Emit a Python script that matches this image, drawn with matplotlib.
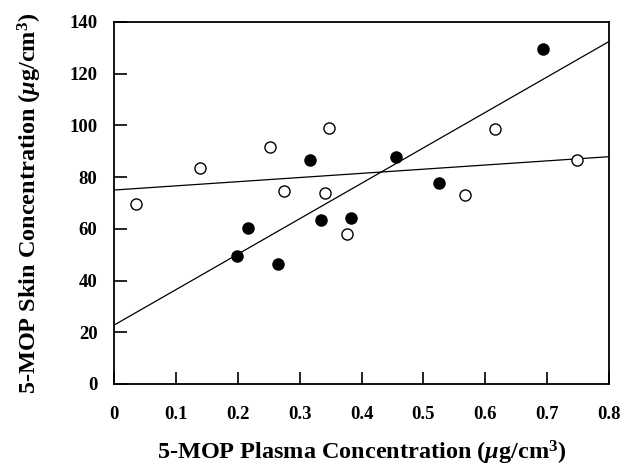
import matplotlib
matplotlib.use("Agg")
import matplotlib.pyplot as plt
import numpy as np

plt.rcParams['font.family'] = ['Liberation Serif', 'DejaVu Serif']
plt.rcParams['mathtext.fontset'] = 'custom'
plt.rcParams['mathtext.it'] = 'Liberation Serif:italic:bold'
plt.rcParams['mathtext.rm'] = 'Liberation Serif:bold'

# open circles
open_x = [0.035, 0.138, 0.252, 0.347, 0.275, 0.341, 0.377, 0.568, 0.616, 0.749]
open_y = [69.5, 83.6, 91.6, 98.9, 74.8, 74.0, 57.9, 73.0, 98.7, 86.5]
# filled circles
filled_x = [0.198, 0.217, 0.265, 0.317, 0.335, 0.383, 0.455, 0.526, 0.694]
filled_y = [49.6, 60.3, 46.3, 86.5, 63.5, 64.3, 87.6, 77.7, 129.4]

# regression lines (intercept, slope)
steep_line = (22.8, 137.0)
flat_line = (75.0, 16.1)

x_ticks = [0, 0.1, 0.2, 0.3, 0.4, 0.5, 0.6, 0.7, 0.8]
x_ticklabels = ['0', '0.1', '0.2', '0.3', '0.4', '0.5', '0.6', '0.7', '0.8']
y_ticks = [0, 20, 40, 60, 80, 100, 120, 140]

fig = plt.figure(figsize=(6.31, 4.66), dpi=100)
ax = fig.add_axes([0.181, 0.176, 0.784, 0.777])

xl = np.array([0.0, 0.8])
for b0, b1 in (steep_line, flat_line):
    ax.plot(xl, b0 + b1 * xl, color='black', lw=0.9, zorder=2)

ax.plot(open_x, open_y, 'o', mfc='white', mec='black', mew=1.0, ms=8, ls='none', zorder=3)
ax.plot(filled_x, filled_y, 'o', mfc='black', mec='black', ms=8, ls='none', zorder=3)

ax.set_xlim(0, 0.8)
ax.set_ylim(0, 140)
ax.set_xticks(x_ticks)
ax.set_xticklabels(x_ticklabels)
ax.set_yticks(y_ticks)
ax.tick_params(direction='in', length=9, width=1.2, labelsize=13.5,
               top=False, right=False)
ax.tick_params(axis='x', pad=16)
ax.tick_params(axis='y', pad=12)
for lab in ax.get_xticklabels() + ax.get_yticklabels():
    lab.set_fontweight('bold')
for s in ax.spines.values():
    s.set_linewidth(1.3)

ax.set_xlabel(r'5-MOP Plasma Concentration ($\mu$g/cm$^3$)', fontsize=17.5, fontweight='bold', labelpad=11)
ax.set_ylabel(r'5-MOP Skin Concentration ($\mu$g/cm$^3$)', fontsize=17.5, fontweight='bold', labelpad=18)

fig.savefig('out.png', dpi=100)
